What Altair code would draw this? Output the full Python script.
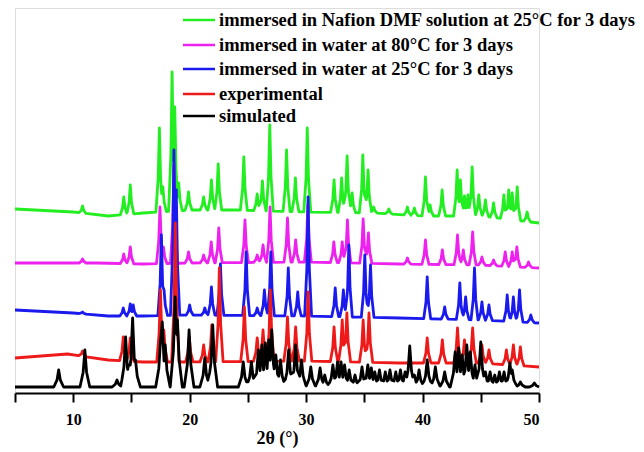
import altair as alt
import pandas as pd
import numpy as np

# ---------------- data (2θ in degrees, intensity in offset a.u.) ----------------
names = ["immersed in Nafion DMF solution at 25°C for 3 days",
         "immersed in water at 80°C for 3 days",
         "immersed in water at 25°C for 3 days",
         "experimental",
         "simulated"]
colors = ["#22ee22", "#ee22ee", "#1a1aee", "#ee1a1a", "#000000"]

green_base_x = [5, 10, 13, 16, 20, 24, 30, 36, 40, 45, 50]
green_base_y = [184, 181, 177, 180, 183, 183, 181, 180, 177, 177, 170]
green_pos = [10.8, 14.34, 14.9, 17.4, 17.7, 18.49, 18.72, 19.06, 19.9, 21.2, 21.87, 22.45,
             24.65, 25.8, 26.25, 26.88, 28.32, 29.08, 30.1, 32.4, 33.05, 33.52, 33.95,
             34.87, 35.32, 35.8, 37.1, 38.7, 39.3, 40.25, 40.65, 41.68, 42.97, 43.25,
             43.6, 43.9, 44.26, 44.83, 45.4, 46.1, 46.98, 47.4, 47.7, 48.13, 48.98]
green_top = [187, 196, 208, 265, 206, 321, 286, 210, 201, 196, 213, 229,
             236, 199, 212, 268, 243, 215, 265, 213, 215, 237, 200,
             238, 223, 186, 184, 186, 185, 216, 188, 203, 223, 213,
             197, 198, 226, 198, 193, 190, 198, 203, 200, 206, 181]

magenta_base_x = [5, 12, 16, 20, 30, 38, 45, 50]
magenta_base_y = [130, 130, 129, 130, 131, 129, 128, 125]
magenta_pos = [10.8, 14.34, 14.9, 17.45, 17.75, 18.65, 19.9, 21.2, 21.85, 22.5, 24.75,
               25.8, 26.3, 26.9, 28.4, 29.1, 30.15, 32.38, 33.1, 33.55, 34.9, 35.35,
               38.7, 40.25, 41.7, 43.0, 43.5, 44.3, 45.1, 46.1, 47.1, 47.7, 48.1, 49.1]
magenta_top = [134, 139, 146, 186, 146, 228, 141, 138, 151, 165, 173,
               138, 148, 186, 175, 153, 188, 151, 151, 173, 174, 160,
               135, 153, 143, 158, 143, 161, 136, 133, 141, 141, 146, 131]

blue_base_x = [5, 10, 13, 16, 20, 30, 38, 45, 50]
blue_base_y = [83, 80, 77, 77, 78, 77, 75, 73, 70]
blue_pos = [10.8, 14.3, 14.9, 15.15, 17.57, 17.8, 18.65, 18.85, 20.0, 21.3, 21.87, 22.64,
            24.85, 25.8, 26.42, 26.97, 28.47, 29.28, 30.17, 32.5, 33.2, 33.67, 35.04,
            35.53, 40.4, 41.9, 43.2, 43.7, 44.46, 45.1, 45.7, 47.27, 47.8, 48.33, 49.3]
blue_top = [81, 85, 89, 88, 158, 103, 243, 203, 88, 85, 106, 129,
            141, 85, 103, 141, 125, 101, 196, 105, 103, 148, 138,
            128, 116, 86, 110, 96, 125, 91, 88, 98, 96, 103, 78]

red_base_x = [5, 9.5, 13, 16, 20, 30, 38, 45, 50]
red_base_y = [35, 39, 33, 31, 31, 32, 30, 30, 26]
red_pos = [10.8, 14.3, 14.9, 17.49, 17.78, 18.77, 19.97, 21.2, 21.9, 22.55, 24.7, 25.8,
           26.3, 26.93, 28.4, 29.1, 30.17, 32.4, 33.1, 33.5, 34.9, 35.4, 40.4, 41.7,
           43.0, 43.6, 44.3, 45.1, 45.7, 47.2, 47.8, 48.4]
red_top = [42, 56, 55, 103, 63, 170, 56, 48, 68, 125, 86, 55,
           63, 103, 76, 66, 101, 66, 73, 80, 73, 80, 55, 53,
           65, 53, 65, 48, 43, 43, 48, 46]

black_base_x = [5, 50]
black_base_y = [6, 6]
black_pos = [8.75, 11.0, 13.76, 14.5, 14.75, 15.1, 15.35, 17.5, 17.65, 17.9, 18.75, 18.95,
             19.95, 21.3, 21.98, 24.6, 25.3, 25.9, 26.2, 26.5, 26.8, 27.05, 27.4, 27.8,
             28.5, 29.1, 29.6, 30.4, 31.2, 31.6, 32.3, 32.7, 33.0, 33.3, 33.7, 34.2,
             34.8, 35.3, 35.6, 35.9, 36.3, 36.8, 37.2, 37.7, 38.1, 38.5, 38.9, 39.3,
             39.7, 40.4, 41.1, 41.9, 42.8, 43.1, 43.4, 43.8, 44.1, 44.5, 45.0, 45.4,
             45.8, 46.2, 46.6, 47.0, 47.5, 47.7, 48.4, 49.6]
black_top = [23, 43, 13, 56, 28, 75, 33, 53, 71, 48, 96, 73,
             63, 35, 68, 31, 31, 43, 48, 50, 53, 63, 38, 33,
             43, 48, 33, 26, 25, 18, 28, 31, 31, 28, 23, 18,
             26, 28, 25, 21, 23, 21, 23, 21, 23, 21, 47, 18,
             23, 33, 26, 21, 41, 45, 38, 48, 41, 28, 51, 21,
             21, 18, 21, 21, 30, 23, 11, 10]

traces = [
    (green_base_x, green_base_y, green_pos, green_top, 0.3),
    (magenta_base_x, magenta_base_y, magenta_pos, magenta_top, 0.3),
    (blue_base_x, blue_base_y, blue_pos, blue_top, 0.3),
    (red_base_x, red_base_y, red_pos, red_top, 0.32),
    (black_base_x, black_base_y, black_pos, black_top, 0.42),
]


def build(name, bx, by, pos, top, hw):
    xs = set(bx)
    for p in pos:
        for k in (-1.0, -0.35, 0.0, 0.35, 1.0):
            xs.add(round(p + k * hw, 4))
    xs = sorted(x for x in xs if 5 <= x <= 50)
    base = np.interp(xs, bx, by)
    heights = np.array(top, float) - np.interp(pos, bx, by)
    rows = []
    for i, (x, b) in enumerate(zip(xs, base)):
        best = 0.0
        for p, h in zip(pos, heights):
            d = abs(x - p)
            if d <= 0.35 * hw:
                c = h * (1 - 0.6 * d / (0.35 * hw))
            elif d < hw:
                c = 0.4 * h * (hw - d) / (0.65 * hw)
            else:
                c = 0.0
            best = max(best, c)
        rows.append({"theta": x, "intensity": b + best, "series": name, "order": i})
    return pd.DataFrame(rows)


W, H = 524, 385
FONT = "'Liberation Serif', 'Times New Roman', 'DejaVu Serif', serif"

xscale = alt.Scale(domain=[5, 50], nice=False, zero=False)
yscale = alt.Scale(domain=[0, 385], nice=False, zero=False)

layers = []
for name, color, tr in zip(names, colors, traces):
    df = build(name, *tr)
    layers.append(
        alt.Chart(df).mark_line(color=color, strokeWidth=2.8, strokeJoin="round").encode(
            x=alt.X("theta:Q", scale=xscale,
                    axis=alt.Axis(values=list(range(5, 51, 5)),
                                  labelExpr="datum.value % 10 == 0 ? datum.label : ''",
                                  title="2θ (°)", grid=False, ticks=True, tickSize=9,
                                  tickWidth=2, tickColor="black", domainWidth=2,
                                  domainColor="black", labelFont=FONT, labelFontSize=16,
                                  labelFontWeight="bold", labelColor="black", labelPadding=9,
                                  titleFont=FONT, titleFontSize=18, titleFontWeight="bold",
                                  titleColor="black", titlePadding=2)),
            y=alt.Y("intensity:Q", scale=yscale, axis=None),
            order="order:Q",
        )
    )

# legend (manual)
legend_layers = []
row_y = [12, 37, 61, 86, 108]
for name, color, yy in zip(names, colors, row_y):
    legend_layers.append(
        alt.Chart(pd.DataFrame({"label": [name]})).mark_rule(color=color, strokeWidth=2.5).encode(
            x=alt.value(168), x2=alt.value(200), y=alt.value(yy)))
    legend_layers.append(
        alt.Chart(pd.DataFrame({"label": [name]})).mark_text(
            align="left", baseline="middle", font=FONT, fontSize=18.5, fontWeight="bold",
            color="black").encode(x=alt.value(204), y=alt.value(yy), text="label:N"))

chart = alt.layer(*layers, *legend_layers).properties(
    width=W, height=H,
    padding={"left": 5, "top": 0, "right": 0, "bottom": 5},
).configure_view(stroke=None).configure(background="white")

chart.save("out.html", embed_options={"renderer": "svg", "actions": False})
